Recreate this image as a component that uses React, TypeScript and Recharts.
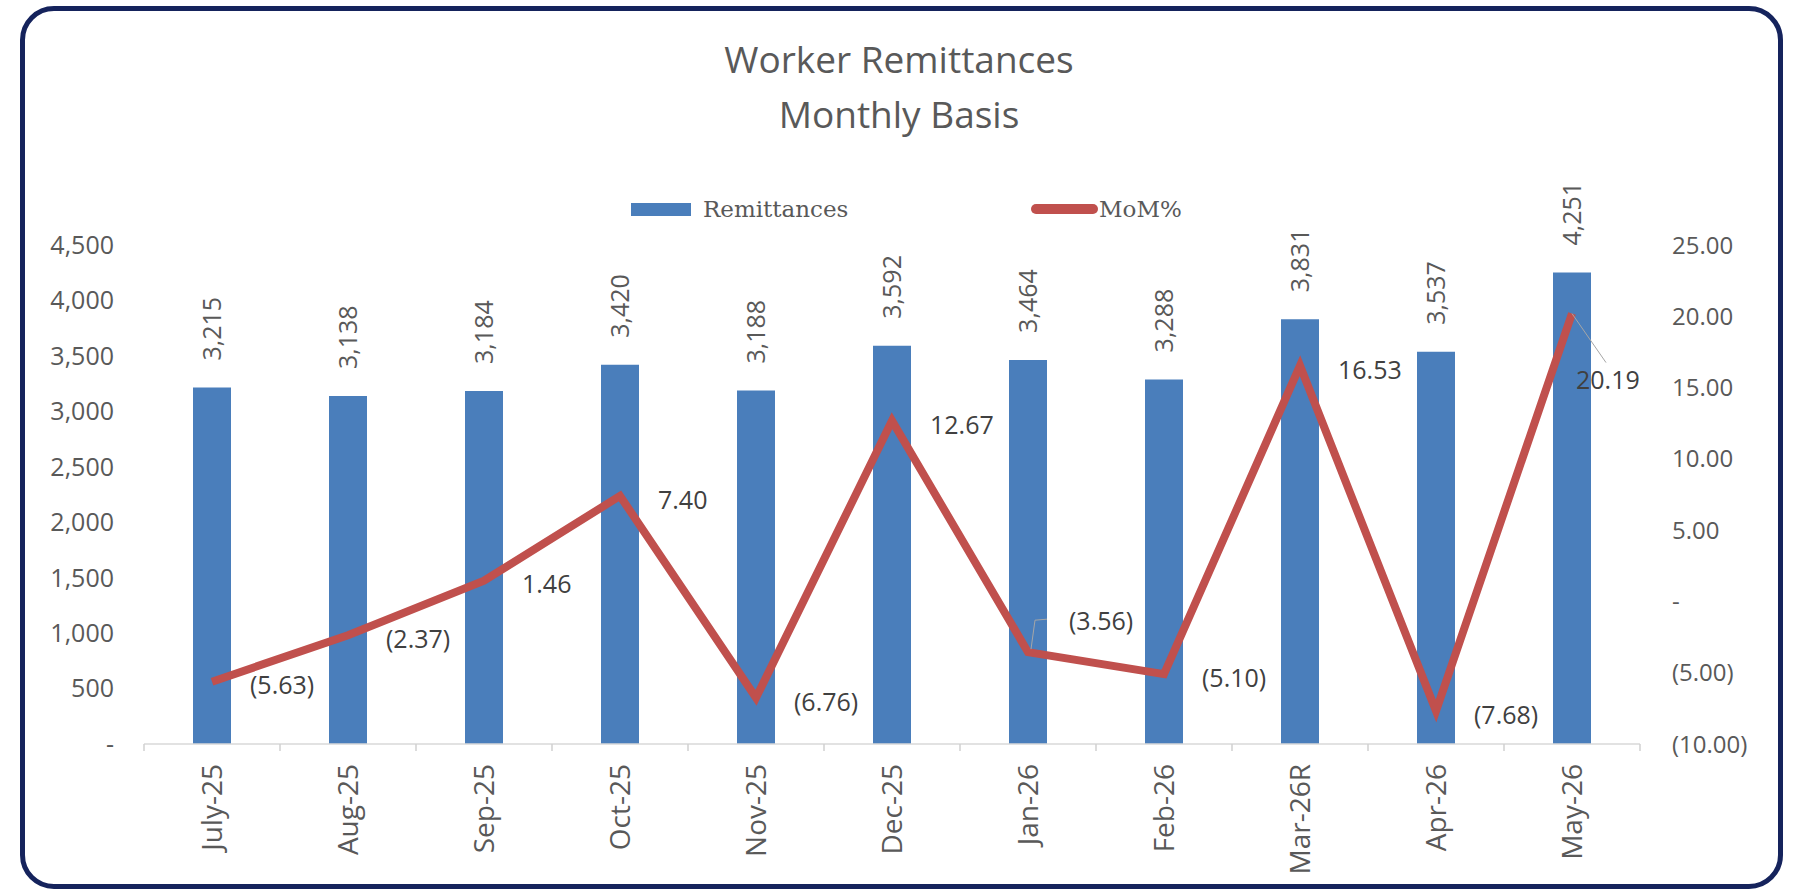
import React from 'react';
import { ComposedChart, Bar, Line, XAxis, YAxis, LabelList } from 'recharts';

const months = ['July-25', 'Aug-25', 'Sep-25', 'Oct-25', 'Nov-25', 'Dec-25', 'Jan-26', 'Feb-26', 'Mar-26R', 'Apr-26', 'May-26'];
const remittances = [3215, 3138, 3184, 3420, 3188, 3592, 3464, 3288, 3831, 3537, 4251];
const momPct = [-5.63, -2.37, 1.46, 7.4, -6.76, 12.67, -3.56, -5.1, 16.53, -7.68, 20.19];
const leftTicks = [0, 500, 1000, 1500, 2000, 2500, 3000, 3500, 4000, 4500];
const rightTicks = [-10, -5, 0, 5, 10, 15, 20, 25];

const data = months.map((m, i) => ({ month: m, remittances: remittances[i], mom: momPct[i] }));

const FONT = '"Open Sans", sans-serif';
const BLUE = '#4a7ebb';
const RED = '#c0504d';
const AXIS_TEXT = '#595959';

const fmtThousands = (v: number) => (v === 0 ? '-' : Number(v).toLocaleString('en-US'));
const fmtPct = (v: number) => (v === 0 ? '-' : v < 0 ? `(${Math.abs(v).toFixed(2)})` : Number(v).toFixed(2));

const XTick = (props: any) => {
  const { x, y, payload, index } = props;
  const half = payload && typeof payload.offset === 'number' ? payload.offset : 0;
  const axisY = y - 20;
  return (
    <g>
      {half ? <line x1={x - half} x2={x - half} y1={axisY} y2={axisY + 7} stroke="#d0d0d0" strokeWidth={1.5} /> : null}
      {half && index === months.length - 1 ? (
        <line x1={x + half} x2={x + half} y1={axisY} y2={axisY + 7} stroke="#d0d0d0" strokeWidth={1.5} />
      ) : null}
      <text
        x={x}
        y={y}
        transform={`rotate(-90, ${x}, ${y})`}
        textAnchor="end"
        dy="0.35em"
        fill={AXIS_TEXT}
        fontSize={28}
        fontFamily={FONT}
      >
        {payload.value}
      </text>
    </g>
  );
};

const BarLabel = (props: any) => {
  const { x, y, width, value } = props;
  const cx = Number(x) + Number(width) / 2;
  const ty = Number(y) - 27;
  return (
    <text
      x={cx}
      y={ty}
      transform={`rotate(-90, ${cx}, ${ty})`}
      textAnchor="start"
      dy="0.35em"
      fill={AXIS_TEXT}
      fontSize={25}
      fontFamily={FONT}
    >
      {fmtThousands(value)}
    </text>
  );
};

const labelPlacement: Record<number, { dx: number; dy: number; leader?: number[][] }> = {
  6: { dx: 41, dy: -31, leader: [[3, -3], [7, -32], [19, -33]] },
  10: { dx: 4, dy: 67, leader: [[0, 0], [34, 49]] },
};

const LineLabel = (props: any) => {
  const { x, y, value, index } = props;
  const px = Number(x);
  const py = Number(y);
  const p = labelPlacement[index] || { dx: 38, dy: 4 };
  return (
    <g>
      {p.leader ? (
        <polyline
          points={p.leader.map(([a, b]) => `${px + a},${py + b}`).join(' ')}
          fill="none"
          stroke="#a6a6a6"
          strokeWidth={1}
        />
      ) : null}
      <text
        x={px + p.dx}
        y={py + p.dy}
        dy="0.35em"
        textAnchor="start"
        fill="#404040"
        fontSize={25}
        fontFamily={FONT}
      >
        {fmtPct(value)}
      </text>
    </g>
  );
};

export default function App() {
  return (
    <div style={{ position: 'absolute', left: 0, top: 0, width: 1793, height: 891, background: '#ffffff', overflow: 'hidden' }}>
      <div
        style={{
          position: 'absolute',
          left: 20,
          top: 6,
          width: 1763,
          height: 883,
          border: '5px solid #15235c',
          borderRadius: 34,
          boxSizing: 'border-box',
        }}
      />
      <div
        style={{
          position: 'absolute',
          left: 0,
          top: 31,
          width: 1798,
          textAlign: 'center',
          fontFamily: FONT,
          fontSize: 37,
          lineHeight: '55px',
          color: '#595959',
        }}
      >
        <div>Worker Remittances</div>
        <div>Monthly Basis</div>
      </div>
      <div style={{ position: 'absolute', left: 631, top: 203, width: 60, height: 13, background: BLUE }} />
      <div
        style={{
          position: 'absolute',
          left: 703,
          top: 209,
          transform: 'translateY(-50%)',
          fontFamily: '"DejaVu Serif", serif',
          fontSize: 23,
          color: '#595959',
          whiteSpace: 'nowrap',
        }}
      >
        Remittances
      </div>
      <div style={{ position: 'absolute', left: 1031, top: 204, width: 67, height: 10, borderRadius: 5, background: RED }} />
      <div
        style={{
          position: 'absolute',
          left: 1099,
          top: 209,
          transform: 'translateY(-50%)',
          fontFamily: '"DejaVu Serif", serif',
          fontSize: 23,
          color: '#595959',
          whiteSpace: 'nowrap',
        }}
      >
        MoM%
      </div>
      <div style={{ position: 'absolute', left: 0, top: 0 }}>
        <ComposedChart width={1793} height={891} data={data} margin={{ top: 245, right: 0, bottom: 27, left: 0 }}>
          <XAxis
            xAxisId="x"
            dataKey="month"
            type="category"
            height={120}
            interval={0}
            tickSize={0}
            tickMargin={20}
            tickLine={false}
            axisLine={{ stroke: '#d9d9d9', strokeWidth: 1.5 }}
            tick={<XTick />}
          />
          <YAxis
            yAxisId="left"
            orientation="left"
            width={144}
            domain={[0, 4500]}
            ticks={leftTicks}
            interval={0}
            tickSize={0}
            tickMargin={30}
            tickLine={false}
            axisLine={false}
            tickFormatter={fmtThousands}
            tick={{ fill: AXIS_TEXT, fontSize: 25, fontFamily: FONT }}
          />
          <YAxis
            yAxisId="right"
            orientation="right"
            width={153}
            domain={[-10, 25]}
            ticks={rightTicks}
            interval={0}
            tickSize={0}
            tickMargin={32}
            tickLine={false}
            axisLine={false}
            tickFormatter={fmtPct}
            tick={{ fill: AXIS_TEXT, fontSize: 24, fontFamily: FONT, textAnchor: 'start' }}
          />
          <Bar xAxisId="x" yAxisId="left" dataKey="remittances" fill={BLUE} barSize={38} isAnimationActive={false}>
            <LabelList dataKey="remittances" content={<BarLabel />} />
          </Bar>
          <Line
            xAxisId="x"
            yAxisId="right"
            dataKey="mom"
            type="linear"
            stroke={RED}
            strokeWidth={8}
            strokeLinejoin="miter"
            dot={false}
            activeDot={false}
            isAnimationActive={false}
          >
            <LabelList dataKey="mom" content={<LineLabel />} />
          </Line>
        </ComposedChart>
      </div>
    </div>
  );
}
